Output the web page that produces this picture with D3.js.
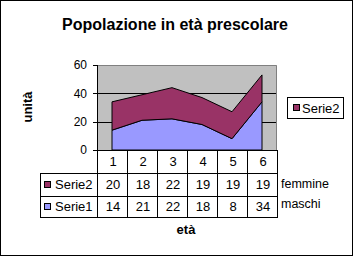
<!DOCTYPE html>
<html>
<head>
<meta charset="utf-8">
<script src="https://cdn.jsdelivr.net/npm/d3@7"></script>
<style>
body { margin:0; background:#fff; }
svg { display:block; font-family:'Liberation Sans', Arial, sans-serif; }
</style>
</head>
<body>
<div id="chart"></div>
<script>
var categories = ['1','2','3','4','5','6']
var serie1 = [14, 21, 22, 18, 8, 34]
var serie2 = [20, 18, 22, 19, 19, 19]
var seriesNames = ['Serie1', 'Serie2']
var rowNotes = ['femmine', 'maschi']
var yTicks = [0, 20, 40, 60]
var titleText = 'Popolazione in età prescolare'

var colors = { Serie1: '#9999ff', Serie2: '#993366' }

var width = 353, height = 257
var plotLeft = 97, plotRight = 277, plotTop = 65, plotBottom = 150
var rowY = [150, 173, 196, 217]
var tableLeft = 40

var svg = d3.select('#chart').append('svg')
	.attr('width', width)
	.attr('height', height)

// outer frame
svg.append('rect')
	.attr('x', 0.5).attr('y', 0.5)
	.attr('width', 352).attr('height', 255)
	.attr('fill', '#fff').attr('stroke', '#000')
	.attr('shape-rendering', 'crispEdges')

svg.append('text')
	.attr('x', 175).attr('y', 30)
	.attr('text-anchor', 'middle')
	.attr('font-size', '16px').attr('font-weight', 'bold')
	.text(titleText)

var xScale = d3.scaleBand()
	.domain(categories)
	.range([plotLeft, plotRight])

var yScale = d3.scaleLinear()
	.domain([0, 60])
	.range([plotBottom, plotTop])

// plot background
svg.append('rect')
	.attr('x', plotLeft).attr('y', plotTop)
	.attr('width', plotRight - plotLeft).attr('height', plotBottom - plotTop)
	.attr('fill', '#c0c0c0')

// gridlines
svg.selectAll('.grid')
	.data(yTicks.filter(function(d){ return d > 0 && d < 60 }))
	.enter().append('line')
	.attr('x1', plotLeft).attr('x2', plotRight)
	.attr('y1', function(d){ return Math.round(yScale(d)) + 0.5 })
	.attr('y2', function(d){ return Math.round(yScale(d)) + 0.5 })
	.attr('stroke', '#000')

// plot border (top and right)
svg.append('path')
	.attr('d', 'M' + plotLeft + ',' + (plotTop + 0.5) + 'H' + (plotRight - 0.5) + 'V' + plotBottom)
	.attr('fill', 'none').attr('stroke', '#808080')

// stacked areas
var rows = categories.map(function(c, i){ return { cat: c, Serie1: serie1[i], Serie2: serie2[i] } })
var stack = d3.stack().keys(seriesNames)(rows)

var area = d3.area()
	.x(function(d){ return xScale(d.data.cat) + xScale.bandwidth() / 2 })
	.y0(function(d){ return yScale(d[0]) })
	.y1(function(d){ return yScale(d[1]) })

svg.selectAll('.area')
	.data(stack)
	.enter().append('path')
	.attr('d', function(d){ return area(d) + 'Z' })
	.attr('fill', function(d){ return colors[d.key] })
	.attr('stroke', '#000')
	.attr('stroke-width', 1)

// y axis
var yAxis = svg.append('g')
yAxis.append('line')
	.attr('x1', plotLeft + 0.5).attr('x2', plotLeft + 0.5)
	.attr('y1', plotTop).attr('y2', rowY[3] + 1)
	.attr('stroke', '#000')
yAxis.selectAll('.tick')
	.data(yTicks)
	.enter().append('line')
	.attr('x1', 93).attr('x2', plotLeft)
	.attr('y1', function(d){ return Math.round(yScale(d)) + 0.5 })
	.attr('y2', function(d){ return Math.round(yScale(d)) + 0.5 })
	.attr('stroke', '#000')
yAxis.selectAll('.lbl')
	.data(yTicks)
	.enter().append('text')
	.attr('x', 87).attr('y', function(d){ return yScale(d) })
	.attr('dy', '0.35em')
	.attr('text-anchor', 'end')
	.attr('font-size', '12px')
	.text(function(d){ return d })

// data table lines
var table = svg.append('g').attr('shape-rendering', 'crispEdges')
table.selectAll('.hline')
	.data(rowY)
	.enter().append('line')
	.attr('x1', function(d, i){ return i === 0 ? plotLeft : tableLeft })
	.attr('x2', plotRight)
	.attr('y1', function(d){ return d + 0.5 }).attr('y2', function(d){ return d + 0.5 })
	.attr('stroke', '#000')
table.selectAll('.vline')
	.data(categories)
	.enter().append('line')
	.attr('x1', function(d){ return xScale(d) + xScale.bandwidth() + 0.5 })
	.attr('x2', function(d){ return xScale(d) + xScale.bandwidth() + 0.5 })
	.attr('y1', rowY[0]).attr('y2', rowY[3] + 1)
	.attr('stroke', '#000')
table.append('line')
	.attr('x1', tableLeft + 0.5).attr('x2', tableLeft + 0.5)
	.attr('y1', rowY[1]).attr('y2', rowY[3] + 1)
	.attr('stroke', '#000')

function rowMid(i){ return (rowY[i] + rowY[i + 1]) / 2 }

// category row
svg.selectAll('.cat')
	.data(categories)
	.enter().append('text')
	.attr('x', function(d){ return xScale(d) + xScale.bandwidth() / 2 + 1 })
	.attr('y', rowMid(0)).attr('dy', '0.35em')
	.attr('text-anchor', 'middle').attr('font-size', '13px')
	.text(function(d){ return d })

// series rows, Serie2 first like the reference
var tableSeries = [
	{ name: 'Serie2', values: serie2, note: rowNotes[0] },
	{ name: 'Serie1', values: serie1, note: rowNotes[1] }
]
tableSeries.forEach(function(s, r){
	var cy = rowMid(r + 1)
	svg.append('rect')
		.attr('x', 44.5).attr('y', Math.round(cy) - 3.5)
		.attr('width', 6).attr('height', 6)
		.attr('fill', colors[s.name]).attr('stroke', '#000')
	svg.append('text')
		.attr('x', 55).attr('y', cy).attr('dy', '0.35em')
		.attr('font-size', '13px')
		.text(s.name)
	svg.selectAll('.v' + r)
		.data(s.values)
		.enter().append('text')
		.attr('x', function(d, i){ return xScale(categories[i]) + xScale.bandwidth() / 2 + 1 })
		.attr('y', cy).attr('dy', '0.35em')
		.attr('text-anchor', 'middle').attr('font-size', '13px')
		.text(function(d){ return d })
	svg.append('text')
		.attr('x', 281).attr('y', cy - 2 * r - 1).attr('dy', '0.35em')
		.attr('font-size', '12.5px')
		.text(s.note)
})

// legend
var legend = svg.append('g')
legend.append('rect')
	.attr('x', 287.5).attr('y', 97.5)
	.attr('width', 56).attr('height', 21)
	.attr('fill', '#fff').attr('stroke', '#000')
legend.append('rect')
	.attr('x', 293.5).attr('y', 104.5)
	.attr('width', 6).attr('height', 6)
	.attr('fill', colors.Serie2).attr('stroke', '#000')
legend.append('text')
	.attr('x', 302).attr('y', 108).attr('dy', '0.35em')
	.attr('font-size', '13px')
	.text('Serie2')

// axis titles
svg.append('text')
	.attr('transform', 'translate(32,107) rotate(-90)')
	.attr('text-anchor', 'middle')
	.attr('font-size', '13px').attr('font-weight', 'bold')
	.text('unità')
svg.append('text')
	.attr('x', 186).attr('y', 234)
	.attr('text-anchor', 'middle')
	.attr('font-size', '13px').attr('font-weight', 'bold')
	.text('età')
</script>
</body>
</html>
